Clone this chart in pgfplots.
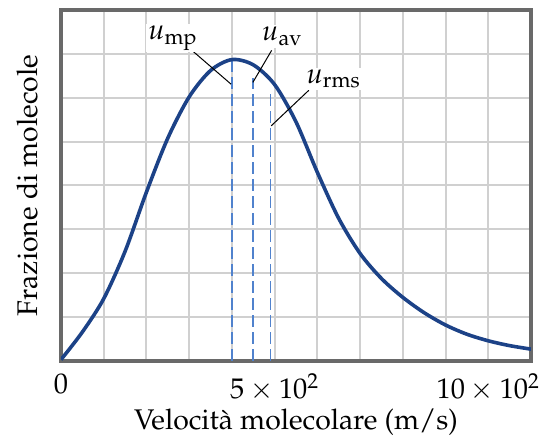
\documentclass[border=0pt]{standalone}
\usepackage[T1]{fontenc}
\usepackage{mathpazo}
\usepackage{pgfplots}
\pgfplotsset{compat=1.18}
\definecolor{curveblue}{RGB}{28,66,135}
\definecolor{dashblue}{RGB}{80,130,205}
\definecolor{gridgray}{RGB}{208,208,208}
\definecolor{framegray}{RGB}{105,105,105}
\begin{document}
\fontsize{14.2}{16}\selectfont
\begin{tikzpicture}
\begin{axis}[
    name=ax,
    scale only axis,
    width=235pt, height=175.5pt,
    xmin=0, xmax=1100, ymin=0, ymax=8,
    xtick={0,100,...,1100},
    xticklabels={$0$,,,,,$5\times10^2$,,,,,$10\times10^2$,},
    ytick={0,1,...,8},
    yticklabels={},
    major tick length=0pt,
    grid=major,
    grid style={gridgray, line width=1pt},
    axis line style={framegray, line width=1.6pt},
    tick label style={font=\fontsize{14.2}{16}\selectfont},
    xticklabel style={yshift=-1.5pt},
    xlabel={Velocit\`a molecolare (m/s)},
    ylabel={Frazione di molecole},
    label style={font=\fontsize{14.2}{16}\selectfont},
    xlabel style={yshift=6pt},
    ylabel style={yshift=-3pt},
]
% most probable, average and rms speeds
\addplot[dashblue, line width=0.8pt, dash pattern=on 6pt off 2.5pt] coordinates {(400,0) (400,6.87)};
\addplot[dashblue, line width=0.8pt, dash pattern=on 6pt off 2.5pt] coordinates {(450,0) (450,6.45)};
\addplot[dashblue, line width=0.8pt, dash pattern=on 6pt off 2.5pt] coordinates {(490,0) (490,6.08)};
% distribution curve
\addplot[curveblue, line width=1.8pt, smooth] coordinates {
(0,0.03) (50,0.66) (100,1.42) (150,2.5) (200,3.85) (250,5.08) (300,6.02)
(350,6.62) (400,6.87) (450,6.75) (500,6.3) (550,5.45) (600,4.3)
(650,3.25) (700,2.45) (750,1.88) (800,1.45) (850,1.1) (900,0.82)
(950,0.61) (1000,0.46) (1050,0.35) (1100,0.27)
};
% labels with leader lines
\draw[black, line width=0.5pt] (axis cs:310,7.05) -- (axis cs:398,6.31);
\draw[black, line width=0.5pt] (axis cs:493,7.08) -- (axis cs:449,6.35);
\draw[black, line width=0.5pt] (axis cs:580,6.17) -- (axis cs:492,5.36);
\node[fill=white, inner sep=1pt] at (axis cs:262,7.36) {$u_{\mathrm{mp}}$};
\node[fill=white, inner sep=1pt] at (axis cs:518,7.40) {$u_{\mathrm{av}}$};
\node[fill=white, inner sep=1pt] at (axis cs:638,6.43) {$u_{\mathrm{rms}}$};
\end{axis}
\pgfresetboundingbox
\path[use as bounding box] ([shift={(-30.5pt,-38pt)}]ax.south west) rectangle ([shift={(241pt,180.5pt)}]ax.south west);
\end{tikzpicture}
\end{document}
